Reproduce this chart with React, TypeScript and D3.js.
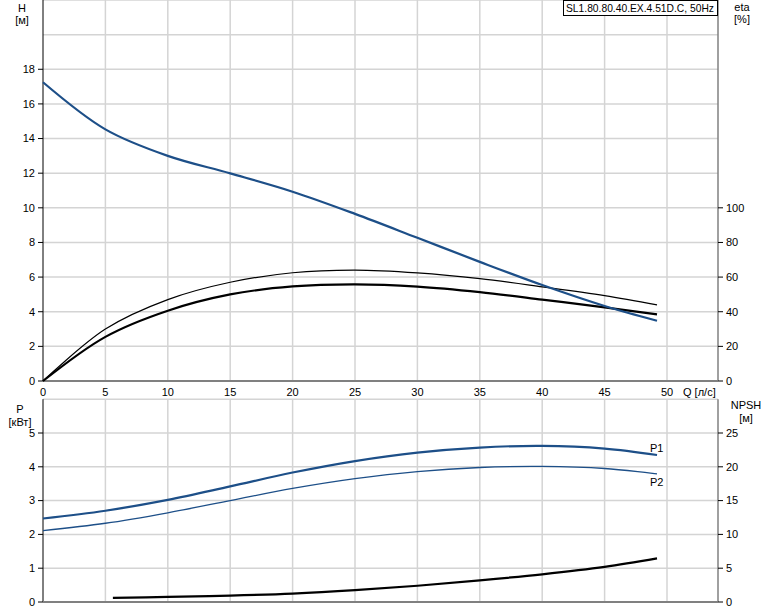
import React from "react";
import * as d3 from "d3";

const qTicks = [0, 5, 10, 15, 20, 25, 30, 35, 40, 45, 50];
const hTicks = [0, 2, 4, 6, 8, 10, 12, 14, 16, 18];
const etaTicks = [0, 20, 40, 60, 80, 100];
const pTicks = [0, 1, 2, 3, 4, 5];
const npshTicks = [0, 5, 10, 15, 20, 25];

const qCurve = [0, 5, 10, 15, 20, 25, 30, 35, 40, 45, 49.2];
const hValues = [17.25, 14.53, 13.0, 11.99, 10.93, 9.65, 8.27, 6.88, 5.54, 4.33, 3.48];
const etaHydValues = [0, 30, 47, 57, 62.5, 64, 62.4, 59.1, 54.4, 49.3, 44];
const etaTotValues = [0, 25.5, 40.6, 50.0, 54.6, 55.8, 54.5, 51.3, 47, 42.5, 38.5];
const p1Values = [2.47, 2.7, 3.02, 3.42, 3.83, 4.17, 4.42, 4.57, 4.62, 4.54, 4.35];
const p2Values = [2.11, 2.33, 2.64, 3.0, 3.36, 3.65, 3.86, 3.98, 4.01, 3.95, 3.79];
const qNpsh = [5.6, 10, 15, 20, 25, 30, 35, 40, 45, 49.2];
const npshValues = [0.6, 0.75, 0.95, 1.25, 1.75, 2.4, 3.2, 4.1, 5.2, 6.45];

const title = "SL1.80.80.40.EX.4.51D.C, 50Hz";

const BLUE = "#1d4f88";
const GRID = "#d4d4d4";
const AXIS = "#808080";
const FONT = "Liberation Sans, Arial, sans-serif";

export default function App() {
  const x = d3.scaleLinear().domain([0, 675 / 12.48]).range([43, 718]);
  const yH = d3.scaleLinear().domain([0, 22]).range([381, 0]);
  const yEta = d3.scaleLinear().domain([0, 220]).range([381, 0]);
  const yP = d3.scaleLinear().domain([0, 6]).range([602, 399.2]);
  const yN = d3.scaleLinear().domain([0, 30]).range([602, 399.2]);

  const mk = (ys: d3.ScaleLinear<number, number>, qs: number[], vs: number[]) =>
    d3
      .line<number>()
      .x((_, i) => x(qs[i]))
      .y((v) => ys(v))
      .curve(d3.curveCatmullRom.alpha(0.5))(vs) || "";

  const gridQ = qTicks.filter((q) => q > 0);
  const hGrid = d3.range(2, 23, 2);
  const pGrid = d3.range(1, 7, 1);

  return (
    <svg
      width={774}
      height={611}
      style={{ position: "absolute", left: 0, top: 0, background: "#fff" }}
      fontFamily={FONT}
      fontSize={11}
    >
      {gridQ.map((q) => (
        <line key={"tv" + q} x1={x(q)} x2={x(q)} y1={0} y2={381} stroke={GRID} strokeWidth={1.5} />
      ))}
      {hGrid.map((h) => (
        <line key={"th" + h} x1={43} x2={718} y1={yH(h)} y2={yH(h)} stroke={GRID} strokeWidth={1.5} />
      ))}
      {gridQ.map((q) => (
        <line key={"bv" + q} x1={x(q)} x2={x(q)} y1={399.2} y2={602} stroke={GRID} strokeWidth={1.5} />
      ))}
      {pGrid.map((p) => (
        <line key={"bh" + p} x1={43} x2={718} y1={yP(p)} y2={yP(p)} stroke={GRID} strokeWidth={1.5} />
      ))}

      <line x1={43} x2={43} y1={0} y2={381} stroke="#000" strokeWidth={1} />
      <line x1={43} x2={718} y1={381} y2={381} stroke={AXIS} strokeWidth={2} />
      <line x1={718} x2={718} y1={0} y2={381} stroke={AXIS} strokeWidth={1.5} />
      <line x1={43} x2={43} y1={399.2} y2={602} stroke="#000" strokeWidth={1} />
      <line x1={43} x2={718} y1={602} y2={602} stroke={AXIS} strokeWidth={2} />
      <line x1={718} x2={718} y1={399.2} y2={602} stroke={AXIS} strokeWidth={1.5} />

      {hTicks.map((h) => (
        <g key={"lh" + h}>
          <line x1={38} x2={43} y1={yH(h)} y2={yH(h)} stroke="#000" />
          <text x={35} y={yH(h)} dy="0.35em" textAnchor="end" fill="#000">{h}</text>
        </g>
      ))}
      {etaTicks.map((e) => (
        <g key={"re" + e}>
          <line x1={718} x2={723} y1={yEta(e)} y2={yEta(e)} stroke="#000" />
          <text x={726} y={yEta(e)} dy="0.35em" textAnchor="start" fill="#000">{e}</text>
        </g>
      ))}
      {qTicks.map((q) => (
        <text key={"xq" + q} x={x(q)} y={396} textAnchor="middle" fill="#000">{q}</text>
      ))}
      <text x={683} y={396} fill="#000">Q [л/с]</text>

      {pTicks.map((p) => (
        <g key={"lp" + p}>
          <line x1={38} x2={43} y1={yP(p)} y2={yP(p)} stroke="#000" />
          <text x={35} y={yP(p)} dy="0.35em" textAnchor="end" fill="#000">{p}</text>
        </g>
      ))}
      {npshTicks.map((n) => (
        <g key={"rn" + n}>
          <line x1={718} x2={723} y1={yN(n)} y2={yN(n)} stroke="#000" />
          <text x={726} y={yN(n)} dy="0.35em" textAnchor="start" fill="#000">{n}</text>
        </g>
      ))}

      <text x={22} y={12} textAnchor="middle" fill="#000">H</text>
      <text x={22} y={24} textAnchor="middle" fill="#000">[м]</text>
      <text x={742} y={11} textAnchor="middle" fill="#000">eta</text>
      <text x={742} y={23} textAnchor="middle" fill="#000">[%]</text>
      <text x={20} y={413} textAnchor="middle" fill="#000">P</text>
      <text x={20} y={426} textAnchor="middle" fill="#000">[кВт]</text>
      <text x={746} y={409} textAnchor="middle" fill="#000">NPSH</text>
      <text x={746} y={422} textAnchor="middle" fill="#000">[м]</text>

      <path d={mk(yEta, qCurve, etaHydValues)} fill="none" stroke="#000" strokeWidth={1.2} />
      <path d={mk(yEta, qCurve, etaTotValues)} fill="none" stroke="#000" strokeWidth={2.2} />
      <path d={mk(yH, qCurve, hValues)} fill="none" stroke={BLUE} strokeWidth={2.2} />

      <path d={mk(yP, qCurve, p1Values)} fill="none" stroke={BLUE} strokeWidth={2.2} />
      <path d={mk(yP, qCurve, p2Values)} fill="none" stroke={BLUE} strokeWidth={1.3} />
      <path d={mk(yN, qNpsh, npshValues)} fill="none" stroke="#000" strokeWidth={2.2} />

      <text x={650} y={452} fill="#000">P1</text>
      <text x={650} y={486} fill="#000">P2</text>

      <rect x={563.5} y={0.5} width={154} height={15} fill="#fff" stroke="#000" strokeWidth={1} />
      <text x={566} y={12} textLength={148} lengthAdjust="spacingAndGlyphs" fill="#000">{title}</text>
    </svg>
  );
}
